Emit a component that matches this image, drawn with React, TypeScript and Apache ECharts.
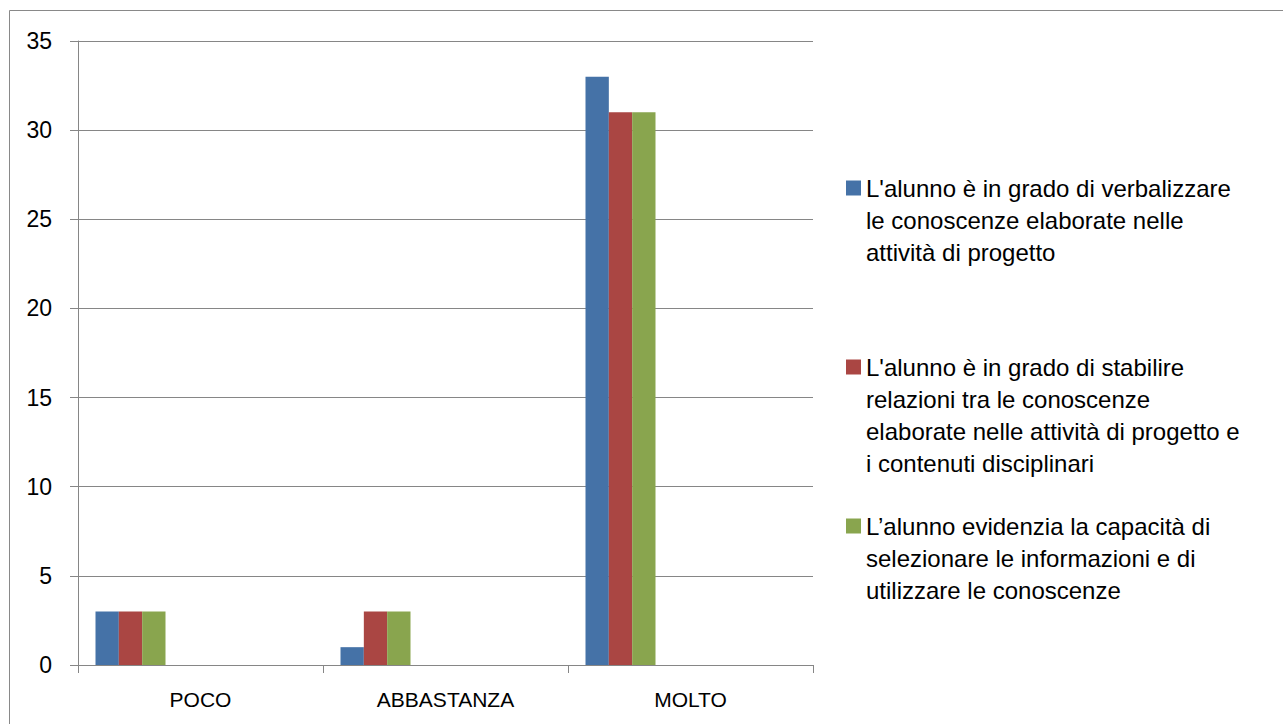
import React, { useEffect, useRef } from "react";
import * as echarts from "echarts";

const categories = ["POCO", "ABBASTANZA", "MOLTO"];
const seriesNames = [
  "L'alunno è in grado di verbalizzare le conoscenze elaborate nelle attività di progetto",
  "L'alunno è in grado di stabilire relazioni tra le conoscenze elaborate nelle attività di progetto e i contenuti disciplinari",
  "L’alunno evidenzia la capacità di selezionare le informazioni e di utilizzare le conoscenze",
];
const legendLines = [
  ["L'alunno è in grado di verbalizzare", "le conoscenze elaborate nelle", "attività di progetto"],
  ["L'alunno è in grado di stabilire", "relazioni tra le conoscenze", "elaborate nelle attività di progetto e", "i contenuti disciplinari"],
  ["L’alunno evidenzia la capacità di", "selezionare le informazioni e di", "utilizzare le conoscenze"],
];
const verbalizzare = [3, 1, 33];
const stabilireRelazioni = [3, 3, 31];
const selezionareInformazioni = [3, 3, 31];
const seriesValues = [verbalizzare, stabilireRelazioni, selezionareInformazioni];
const seriesColors = ["#4572A7", "#AA4643", "#89A54E"];
// Empty series slots present in the original workbook (reserve bar space)
const emptySlotCount = 6;
const yTicks = { min: 0, max: 35, interval: 5 };

const FONT = "Liberation Sans, Arial, sans-serif";
const LH = 32;
const legendIconCenters = [188, 367, 526];

export default function App() {
  const ref = useRef<HTMLDivElement>(null);
  useEffect(() => {
    if (!ref.current) return;
    const chart = echarts.init(ref.current, null, { renderer: "svg" });
    const realSeries = seriesNames.map((name, i) => ({
      name,
      type: "bar",
      data: seriesValues[i],
      itemStyle: { color: seriesColors[i] },
      barGap: "0%",
      barCategoryGap: "14.2857%",
    }));
    const emptySeries = Array.from({ length: emptySlotCount }, (_, k) => ({
      name: "empty" + k,
      type: "bar",
      data: [] as number[],
      barGap: "0%",
      barCategoryGap: "14.2857%",
    }));
    const legends = seriesNames.map((name, i) => {
      const n = legendLines[i].length;
      const boxH = (2 * n - 1) * LH;
      return {
        data: [name],
        left: 846,
        top: legendIconCenters[i] - boxH / 2,
        padding: 0,
        itemWidth: 15,
        itemHeight: 15,
        icon: "rect",
        selectedMode: false,
        formatter: () => "\u00a0\n".repeat(n - 1) + legendLines[i].join("\n"),
        textStyle: {
          fontFamily: FONT,
          fontSize: 24,
          color: "#000",
          lineHeight: LH,
        },
      };
    });
    chart.setOption({
      animation: false,
      backgroundColor: "#fff",
      graphic: [
        {
          type: "rect",
          shape: { x: 9.5, y: 10.5, width: 2000, height: 2000 },
          style: { fill: "none", stroke: "#898989", lineWidth: 1 },
          silent: true,
        },
      ],
      grid: { left: 78, right: 470, top: 41, bottom: 59 },
      legend: legends,
      xAxis: {
        type: "category",
        data: categories,
        axisLine: { lineStyle: { color: "#868686", width: 1 } },
        axisTick: { show: true, length: 8, interval: 0, lineStyle: { color: "#868686" } },
        axisLabel: { color: "#000", fontFamily: FONT, fontSize: 21, margin: 24 },
      },
      yAxis: {
        type: "value",
        min: yTicks.min,
        max: yTicks.max,
        interval: yTicks.interval,
        axisLine: { show: true, lineStyle: { color: "#868686", width: 1 } },
        axisTick: { show: true, length: 8, lineStyle: { color: "#868686" } },
        splitLine: { show: true, lineStyle: { color: "#868686", width: 1 } },
        axisLabel: { color: "#000", fontFamily: FONT, fontSize: 23, margin: 26 },
      },
      series: [...realSeries, ...emptySeries],
    });
    return () => chart.dispose();
  }, []);
  return (
    <div
      ref={ref}
      style={{ position: "fixed", left: 0, top: 0, width: 1283, height: 724 }}
    />
  );
}
